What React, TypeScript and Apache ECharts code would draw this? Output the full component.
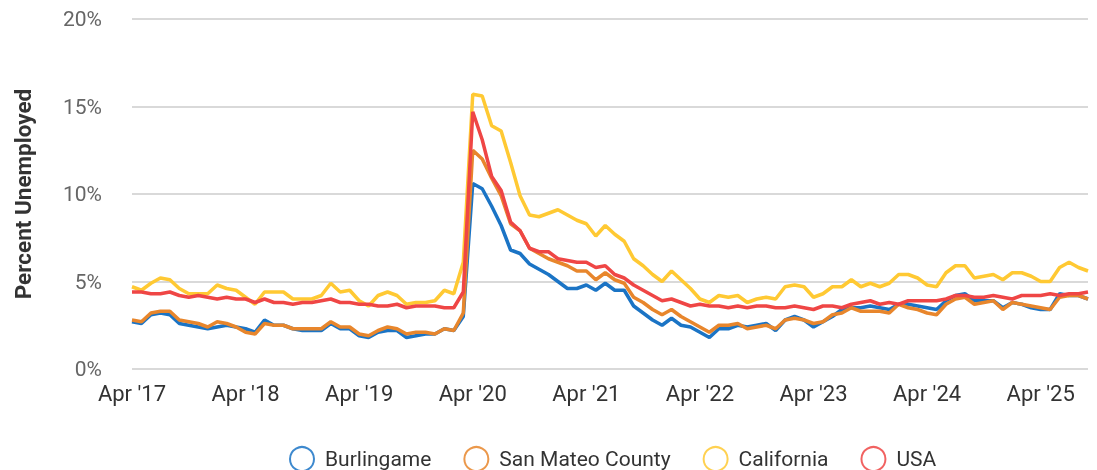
import React, { useEffect, useRef } from "react";
import * as echarts from "echarts";

// Monthly, Apr 2017 – Sep 2025
const MONTHS = ["Jan", "Feb", "Mar", "Apr", "May", "Jun", "Jul", "Aug", "Sep", "Oct", "Nov", "Dec"];
const startYear = 2017;
const startMonth = 3; // April
const pointCount = 102;
const categories: string[] = [];
for (let i = 0; i < pointCount; i++) {
  const m = (startMonth + i) % 12;
  const y = startYear + Math.floor((startMonth + i) / 12);
  categories.push(`${MONTHS[m]} '${String(y).slice(2)}`);
}

const burlingame = [
  2.7, 2.6, 3.1, 3.2, 3.1, 2.6, 2.5, 2.4, 2.3, 2.4, 2.5, 2.4, 2.3, 2.1, 2.8, 2.5, 2.5, 2.3, 2.2, 2.2, 2.2, 2.6, 2.3, 2.3, 1.9,
  1.8, 2.1, 2.2, 2.2, 1.8, 1.9, 2.0, 2.0, 2.3, 2.2, 3.0,
  10.6, 10.3, 9.3, 8.2, 6.8, 6.6, 6.0, 5.7, 5.4, 5.0, 4.6, 4.6, 4.8, 4.5, 4.9, 4.5, 4.5, 3.6,
  3.2, 2.8, 2.5, 2.9, 2.5, 2.4, 2.1, 1.8, 2.3, 2.3, 2.5, 2.4, 2.5, 2.6, 2.2, 2.8, 3.0, 2.8, 2.4, 2.7, 3.0,
  3.4, 3.5, 3.5, 3.6, 3.5, 3.4, 3.7, 3.7, 3.6, 3.5, 3.4, 3.9, 4.2, 4.3,
  3.9, 3.9, 3.9, 3.5, 3.8, 3.7, 3.5, 3.4, 3.4, 4.3, 4.2, 4.2, 4.0,
];

const sanMateo = [
  2.8, 2.7, 3.2, 3.3, 3.3, 2.8, 2.7, 2.6, 2.4, 2.7, 2.6, 2.4, 2.1, 2.0, 2.6, 2.5, 2.5, 2.3, 2.3, 2.3, 2.3, 2.7, 2.4, 2.4, 2.0,
  1.9, 2.2, 2.4, 2.3, 2.0, 2.1, 2.1, 2.0, 2.3, 2.2, 3.2,
  12.5, 12.0, 10.9, 9.9, 8.3, 7.9, 6.9, 6.6, 6.3, 6.1, 5.9, 5.6, 5.6, 5.1, 5.5, 5.1, 4.9, 4.1,
  3.8, 3.4, 3.1, 3.4, 3.0, 2.7, 2.4, 2.1, 2.5, 2.5, 2.6, 2.3, 2.4, 2.5, 2.3, 2.8, 2.9, 2.8, 2.6, 2.7, 3.1,
  3.2, 3.5, 3.3, 3.3, 3.3, 3.2, 3.7, 3.5, 3.4, 3.2, 3.1, 3.7, 4.0, 4.1,
  3.7, 3.8, 3.9, 3.4, 3.8, 3.7, 3.6, 3.5, 3.4, 4.1, 4.2, 4.2, 4.0,
];

const california = [
  4.7, 4.5, 4.9, 5.2, 5.1, 4.6, 4.3, 4.3, 4.3, 4.8, 4.6, 4.5, 4.1, 3.7, 4.4, 4.4, 4.4, 4.0, 4.0, 4.0, 4.2, 4.9, 4.4, 4.5, 3.9,
  3.6, 4.2, 4.4, 4.2, 3.7, 3.8, 3.8, 3.9, 4.5, 4.3, 6.1,
  15.7, 15.6, 13.9, 13.6, 11.8, 9.9, 8.8, 8.7, 8.9, 9.1, 8.8, 8.5, 8.3, 7.6, 8.2, 7.7, 7.3, 6.3,
  5.9, 5.4, 5.0, 5.6, 5.1, 4.6, 4.0, 3.8, 4.2, 4.1, 4.2, 3.8, 4.0, 4.1, 4.0, 4.7, 4.8, 4.7, 4.1, 4.3, 4.7,
  4.7, 5.1, 4.7, 4.9, 4.7, 4.9, 5.4, 5.4, 5.2, 4.8, 4.7, 5.5, 5.9, 5.9,
  5.2, 5.3, 5.4, 5.1, 5.5, 5.5, 5.3, 5.0, 5.0, 5.8, 6.1, 5.8, 5.6,
];

const usa = [
  4.4, 4.4, 4.3, 4.3, 4.4, 4.2, 4.1, 4.2, 4.1, 4.0, 4.1, 4.0, 4.0, 3.8, 4.0, 3.8, 3.8, 3.7, 3.8, 3.8, 3.9, 4.0, 3.8, 3.8, 3.7,
  3.7, 3.6, 3.6, 3.7, 3.5, 3.6, 3.6, 3.6, 3.5, 3.5, 4.4,
  14.7, 13.1, 11.0, 10.2, 8.4, 7.9, 6.9, 6.7, 6.7, 6.3, 6.2, 6.1, 6.1, 5.8, 5.9, 5.4, 5.2, 4.8,
  4.5, 4.2, 3.9, 4.0, 3.8, 3.6, 3.7, 3.6, 3.6, 3.5, 3.6, 3.5, 3.6, 3.6, 3.5, 3.5, 3.6, 3.5, 3.4, 3.6, 3.6,
  3.5, 3.7, 3.8, 3.9, 3.7, 3.8, 3.7, 3.9, 3.9, 3.9, 3.9, 4.0, 4.2, 4.2,
  4.1, 4.1, 4.2, 4.1, 4.0, 4.2, 4.2, 4.2, 4.3, 4.2, 4.3, 4.3, 4.4,
];

const seriesNames = ["Burlingame", "San Mateo County", "California", "USA"];
const seriesData = [burlingame, sanMateo, california, usa];
const colors = ["#1b74c5", "#e8862c", "#ffc933", "#ef4645"];
const yTicks = [0, 5, 10, 15, 20];

export default function App() {
  const ref = useRef<HTMLDivElement>(null);
  useEffect(() => {
    if (!ref.current) return;
    const chart = echarts.init(ref.current, null, { renderer: "svg" });
    chart.setOption({
      animation: false,
      textStyle: { fontFamily: "Roboto" },
      grid: { left: 132, right: 9, top: 19, bottom: 101, containLabel: false },
      legend: {
        left: 284,
        top: 441,
        itemWidth: 24,
        itemHeight: 24,
        itemGap: 32,
        icon: "circle",
        textStyle: { fontSize: 21, color: "#333", fontFamily: "Roboto", padding: [0, 0, 0, 6] },
        data: seriesNames.map((n, i) => ({
          name: n,
          itemStyle: { color: "#ffffff", borderColor: colors[i], borderWidth: 2, opacity: 0.85 },
        })),
      },
      xAxis: {
        type: "category",
        data: categories,
        boundaryGap: false,
        axisLine: { show: false },
        axisTick: { show: false },
        axisLabel: {
          interval: (idx: number) => idx % 12 === 0,
          fontSize: 22,
          color: "#333",
          margin: 13,
          fontFamily: "Roboto",
        },
        splitLine: { show: false },
      },
      yAxis: {
        type: "value",
        min: yTicks[0],
        max: yTicks[yTicks.length - 1],
        interval: 5,
        name: "Percent Unemployed",
        nameLocation: "middle",
        nameGap: 98,
        nameTextStyle: { fontSize: 22.5, fontWeight: "bold", color: "#333", fontFamily: "Roboto" },
        axisLine: { show: false },
        axisTick: { show: false },
        axisLabel: {
          formatter: (v: number) => `${v}%`,
          fontSize: 21,
          color: "#666",
          margin: 30,
          fontFamily: "Roboto",
        },
        splitLine: { lineStyle: { color: "#cccccc", width: 1.5 } },
      },
      series: seriesNames.map((n, i) => ({
        name: n,
        type: "line",
        data: seriesData[i],
        showSymbol: false,
        symbol: "none",
        lineStyle: { color: colors[i], width: 3.5 },
        itemStyle: { color: colors[i] },
        z: 2 + i,
      })),
    });
    return () => chart.dispose();
  }, []);
  return <div ref={ref} style={{ position: "fixed", left: 0, top: 0, width: 1097, height: 470 }} />;
}
